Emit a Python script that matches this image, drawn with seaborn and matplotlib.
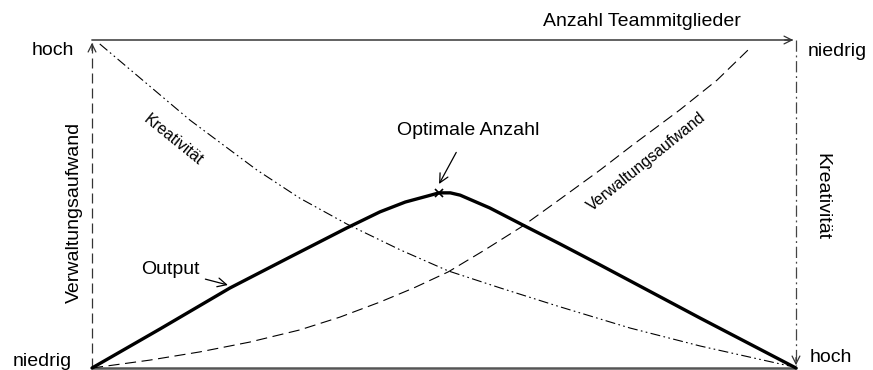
import pandas as pd
import matplotlib.pyplot as plt
import seaborn as sns

sns.set_style("white")
plt.rcParams["font.family"] = ["Liberation Sans", "DejaVu Sans"]
plt.rcParams["text.color"] = "black"

# curves (x = team size 0..100, y = level 0..100)
output_x = [0, 9.66, 19.6, 28.1, 36.2, 40.9, 44.5, 47.6, 49.3, 50.9, 52.3,
            56.5, 61.2, 66.5, 72.2, 86.4, 100]
output_y = [0, 11.9, 24.4, 33.8, 42.7, 47.6, 50.6, 52.4, 53.4, 53.4, 52.7,
            48.8, 43.6, 37.8, 31.4, 15.2, 0]

kreat_x = [1.1, 7.5, 13.9, 23.4, 29.5, 36.2, 43.8, 50.6, 58.0, 66.1, 76.4, 86.4, 99.1]
kreat_y = [98.8, 87.2, 75.6, 60.4, 51.8, 43.9, 36.0, 29.6, 24.4, 18.9, 12.2, 6.7, 0.6]

verw_x = [0, 8.2, 15.3, 22.4, 29.5, 35.2, 40.9, 45.7, 50.6, 55.8, 61.2,
          66.5, 72.2, 76.8, 83.5, 88.8, 93.5]
verw_y = [0, 2.4, 4.9, 7.9, 11.6, 15.5, 20.1, 24.4, 29.3, 36.0, 43.3,
          51.5, 60.4, 68.0, 78.7, 87.8, 97.6]

df_out = pd.DataFrame({"x": output_x, "y": output_y})
df_kre = pd.DataFrame({"x": kreat_x, "y": kreat_y})
df_ver = pd.DataFrame({"x": verw_x, "y": verw_y})

fig = plt.figure(figsize=(8.73, 3.70), dpi=100)
ax = fig.add_axes([0, 0, 1, 1])
ax.set_xlim(-13.07, 110.94)
ax.set_ylim(-0.61, 112.2)
ax.axis("off")

# frame: bottom, top arrow, left dashed arrow, right dash-dot arrow
ax.plot([0, 100], [0, 0], color="#555555", lw=1.8, zorder=1)
ax.plot([0, 99.5], [100, 100], color="#555555", lw=1.3, zorder=1)
ax.plot([0, 0], [0, 99], color="#333333", lw=0.9, linestyle=(0, (8, 4)), zorder=1)
ax.plot([100, 100], [100, 1], color="#444444", lw=0.9, linestyle=(0, (9, 3, 1.5, 3)), zorder=1)
head = dict(arrowstyle="->", lw=0.9, color="#333333", mutation_scale=14)
ax.annotate("", xy=(100, 100), xytext=(98, 100), arrowprops=head)
ax.annotate("", xy=(0, 100), xytext=(0, 96), arrowprops=head)
ax.annotate("", xy=(100, 0), xytext=(100, 4), arrowprops=head)

# curves
sns.lineplot(data=df_kre, x="x", y="y", ax=ax, color="black", lw=0.8,
             linestyle=(0, (9, 3, 1.5, 3, 1.5, 3)), sort=False, estimator=None)
sns.lineplot(data=df_ver, x="x", y="y", ax=ax, color="black", lw=0.8,
             linestyle=(0, (10, 5)), sort=False, estimator=None)
sns.lineplot(data=df_out, x="x", y="y", ax=ax, color="black", lw=2.4,
             sort=False, estimator=None, zorder=3, solid_joinstyle="round")
peak = df_out.loc[df_out["y"].idxmax()]
ax.plot(peak["x"], peak["y"], marker="x", color="black", ms=6, mew=1.2, zorder=2)

fs = 14
ax.text(-2.56, 96.95, "hoch", ha="right", va="center", fontsize=fs)
ax.text(-2.84, 1.83, "niedrig", ha="right", va="center", fontsize=fs)
ax.text(101.7, 96.6, "niedrig", ha="left", va="center", fontsize=fs)
ax.text(102.0, 3.05, "hoch", ha="left", va="center", fontsize=fs)
ax.text(78.1, 105.5, "Anzahl Teammitglieder", ha="center", va="center", fontsize=fs)
ax.text(-2.56, 47.3, "Verwaltungsaufwand", ha="center", va="center", fontsize=fs, rotation=90)
ax.text(103.7, 52.4, "Kreativität", ha="center", va="center", fontsize=fs, rotation=270)

ax.text(11.5, 69.5, "Kreativität", ha="center", va="center", fontsize=11.5,
        rotation=-39, rotation_mode="anchor")
ax.text(78.8, 62.8, "Verwaltungsaufwand", ha="center", va="center", fontsize=11.5,
        rotation=39, rotation_mode="anchor")

ax.annotate("Optimale Anzahl", xy=(49.3, 56.1), xytext=(53.4, 72.3),
            ha="center", va="center", fontsize=fs,
            arrowprops=dict(arrowstyle="->", lw=0.9, color="black",
                            mutation_scale=16, shrinkA=8, shrinkB=0))
ax.annotate("Output", xy=(19.3, 25.3), xytext=(11.1, 29.9),
            ha="center", va="center", fontsize=fs,
            arrowprops=dict(arrowstyle="->", lw=0.9, color="black",
                            mutation_scale=16, shrinkA=2, shrinkB=0))

plt.savefig("out.png", dpi=100)
